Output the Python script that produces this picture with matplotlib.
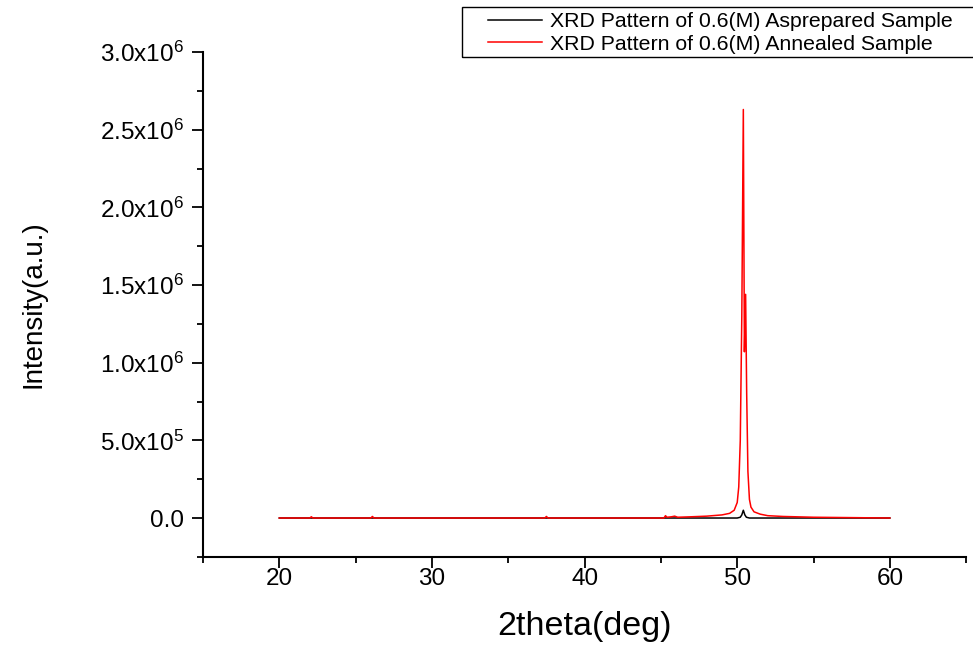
import matplotlib
matplotlib.use("Agg")
import matplotlib.pyplot as plt
from matplotlib.patches import Rectangle
from matplotlib.ticker import FuncFormatter, MultipleLocator

plt.rcParams["font.family"] = ["Liberation Sans", "DejaVu Sans"]

# values (intensity in units of 1e6)
red_x = [20, 22, 22.1, 22.2, 26, 26.1, 26.2, 30, 37.4, 37.5, 37.6, 42,
         45.2, 45.3, 45.4, 45.7, 45.9, 46.1, 47, 48, 49, 49.5, 49.8, 50.0,
         50.1, 50.2, 50.3, 50.4, 50.47, 50.55, 50.62, 50.7, 50.8, 50.9,
         51.1, 51.5, 52, 53, 55, 57, 60]
red_y = [0.0, 0.0, 0.008, 0.0, 0.0, 0.01, 0.0, 0.0, 0.0, 0.01, 0.0, 0.0,
         0.0, 0.015, 0.005, 0.008, 0.012, 0.005, 0.008, 0.012, 0.02, 0.03,
         0.05, 0.1, 0.2, 0.5, 1.3, 2.63, 1.07, 1.44, 0.8, 0.3, 0.12, 0.07,
         0.04, 0.025, 0.015, 0.01, 0.005, 0.003, 0.0]

black_x = [20, 30, 40, 50.0, 50.2, 50.3, 50.4, 50.5, 50.6, 50.8, 55, 60]
black_y = [0.0, 0.0, 0.0, 0.0, 0.005, 0.02, 0.05, 0.02, 0.005, 0.0, 0.0, 0.0]

labels = ["XRD Pattern of 0.6(M) Asprepared Sample",
          "XRD Pattern of 0.6(M) Annealed Sample"]


def sci_fmt(v, pos):
    if abs(v) < 1e-9:
        return "0.0"
    exp = 6 if abs(v) >= 1e6 else 5
    mant = v / 10 ** exp
    return r"$\mathregular{%.1fx10^{%d}}$" % (mant, exp)


fig = plt.figure(figsize=(9.73, 6.46), dpi=100)
ax = fig.add_axes([0.2086, 0.138, 0.7844, 0.7815])

ax.plot(black_x, [v * 1e6 for v in black_y], color="black", lw=1.1,
        label=labels[0], zorder=2)
ax.plot(red_x, [v * 1e6 for v in red_y], color="red", lw=1.1,
        label=labels[1], zorder=3)

ax.set_xlim(15, 65)
ax.set_ylim(-0.25e6, 3.0e6)
ax.xaxis.set_major_locator(MultipleLocator(10))
ax.xaxis.set_minor_locator(MultipleLocator(5))
ax.yaxis.set_major_locator(MultipleLocator(0.5e6))
ax.yaxis.set_minor_locator(MultipleLocator(0.25e6))
ax.yaxis.set_major_formatter(FuncFormatter(sci_fmt))

for s in ("top", "right"):
    ax.spines[s].set_visible(False)
for s in ("left", "bottom"):
    ax.spines[s].set_linewidth(1.5)

ax.tick_params(which="major", direction="out", length=8, width=1.3,
               labelsize=17.5)
ax.tick_params(axis="x", which="major", pad=0)
ax.tick_params(axis="y", which="major", pad=6)
ax.tick_params(which="minor", direction="out", length=4, width=1.3)

ax.set_xlabel("2theta(deg)", fontsize=24.5)
ax.set_ylabel("Intensity(a.u.)", fontsize=20)
ax.xaxis.set_label_coords(0.5, -0.108)
ax.yaxis.set_label_coords(-0.205, 0.5)

leg = fig.legend(loc="upper left", bbox_to_anchor=(488 / 973, 1 - 12 / 646),
                 fontsize=15.3, frameon=False, handlelength=2.55,
                 borderaxespad=0, borderpad=0, labelspacing=0.17,
                 handletextpad=0.38)
fig.patches.append(Rectangle((462 / 973, 1 - 57 / 646), 0.6, 50 / 646,
                             transform=fig.transFigure, fill=False,
                             edgecolor="black", lw=1.0))

fig.savefig("out.png", dpi=100)
